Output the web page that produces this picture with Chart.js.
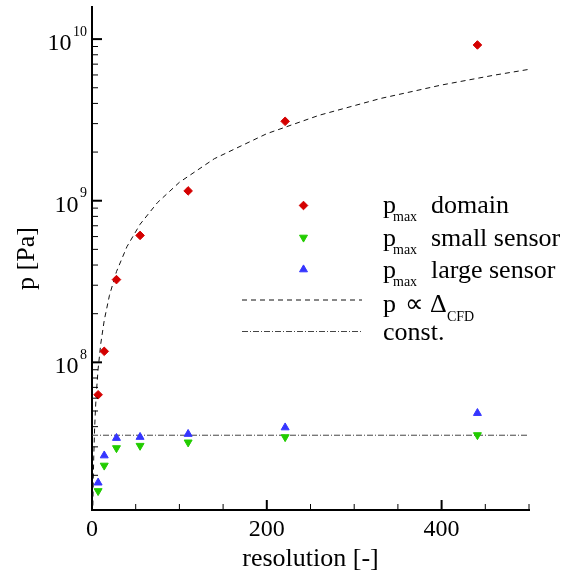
<!DOCTYPE html>
<html>
<head>
<meta charset="utf-8">
<script src="https://cdn.jsdelivr.net/npm/chart.js@4/dist/chart.umd.min.js"></script>
<style>
  html, body { margin: 0; padding: 0; background: #fff; }
</style>
</head>
<body>
<canvas id="myChart" width="562" height="576"></canvas>
<script>
/* Peak pressure vs. grid resolution, log pressure axis. */

// measured points
const resolution = [7, 14, 28, 55, 110, 221, 441];
const pMaxDomain = [6.3e7, 1.17e8, 3.25e8, 6.1e8, 1.15e9, 3.1e9, 9.2e9];
const pMaxSmall  = [1.6e7, 2.3e7, 2.95e7, 3.05e7, 3.2e7, 3.45e7, 3.55e7];
const pMaxLarge  = [1.8e7, 2.65e7, 3.4e7, 3.45e7, 3.6e7, 3.95e7, 4.85e7];

// p ~ Delta_CFD reference curve
const scalingRes = [1, 1.5, 2, 3, 4, 5, 7, 10, 14, 20, 28, 40, 55, 75, 100, 140, 200, 260, 330, 400, 460, 500];
const scalingP   = [1.3e7, 1.95e7, 2.6e7, 3.9e7, 5.2e7, 6.5e7, 9.1e7, 1.3e8, 1.82e8, 2.6e8, 3.64e8, 5.2e8,
                    7.15e8, 9.75e8, 1.3e9, 1.82e9, 2.6e9, 3.38e9, 4.29e9, 5.2e9, 5.98e9, 6.5e9];

// constant level
const constRes = [0, 500];
const constP   = [3.54e7, 3.54e7];

// axes
const xMin = 0, xMax = 500, xMinorStep = 50;
const yMin = 1.22e7, yMax = 1.58e10;
const xMajorTicks = [0, 200, 400];
const xTickLabels = ['0', '200', '400'];
const yMajorTicks = [1e8, 1e9, 1e10];
const yTickExponents = ['8', '9', '10'];

const serif = "'Liberation Serif', 'Times New Roman', serif";
const red = '#d40000', green = '#22cc00', blue = '#3535ff';

function pts(xs, ys) {
    return xs.map((x, i) => ({ x: x, y: ys[i] }));
}

// tick marks point into the plot, labels use superscripts
const axisDecor = {
    id: 'axisDecor',
    afterDraw(chart) {
        const ctx = chart.ctx;
        const xs = chart.scales.x, ys = chart.scales.y;
        const area = chart.chartArea;
        ctx.save();
        ctx.strokeStyle = '#000';
        ctx.fillStyle = '#000';

        for (let v = xMin + xMinorStep; v <= xMax; v += xMinorStep) {
            const major = xMajorTicks.includes(v);
            const px = xs.getPixelForValue(v);
            ctx.lineWidth = major ? 2 : 1;
            ctx.beginPath();
            ctx.moveTo(px, area.bottom);
            ctx.lineTo(px, area.bottom - (major ? 10 : 6));
            ctx.stroke();
        }
        for (let e = 7; e <= 10; e++) {
            for (let m = 1; m <= 9; m++) {
                const v = m * Math.pow(10, e);
                if (v < yMin || v > yMax) continue;
                const py = ys.getPixelForValue(v);
                ctx.lineWidth = m === 1 ? 2 : 1;
                ctx.beginPath();
                ctx.moveTo(area.left, py);
                ctx.lineTo(area.left + (m === 1 ? 10 : 6), py);
                ctx.stroke();
            }
        }

        ctx.textBaseline = 'alphabetic';
        ctx.font = '24px ' + serif;
        ctx.textAlign = 'center';
        xMajorTicks.forEach((v, i) => {
            ctx.fillText(xTickLabels[i], xs.getPixelForValue(v), area.bottom + 26);
        });

        const right = area.left - 5;
        yMajorTicks.forEach((v, i) => {
            const py = ys.getPixelForValue(v);
            ctx.font = '14px ' + serif;
            const supW = ctx.measureText(yTickExponents[i]).width;
            ctx.textAlign = 'left';
            ctx.fillText(yTickExponents[i], right - supW, py - 3.5);
            ctx.font = '24px ' + serif;
            ctx.textAlign = 'right';
            ctx.fillText('10', right - supW - 1.5, py + 11);
        });
        ctx.restore();
    }
};

// legend rows: marker/line sample plus text runs (main, subscript)
const legendRows = [
    { ds: 0, y: 205.5, base: 212.5, runs: [['p', 383, 0], ['max', 393, 1], ['domain', 431, 0]] },
    { ds: 1, y: 237.5, base: 245.5, runs: [['p', 383, 0], ['max', 393, 1], ['small sensor', 431, 0]] },
    { ds: 2, y: 269.5, base: 277.5, runs: [['p', 383, 0], ['max', 393, 1], ['large sensor', 431, 0]] },
    { ds: 3, y: 300,   base: 312,   runs: [['p', 383, 0], ['\u221D', 405, 0], ['\u0394', 430, 0], ['CFD', 447, 1]] },
    { ds: 4, y: 331.5, base: 340,   runs: [['const.', 383, 0]] }
];

const customLegend = {
    id: 'customLegend',
    afterDraw(chart) {
        const ctx = chart.ctx;
        ctx.save();
        legendRows.forEach(row => {
            const ds = chart.data.datasets[row.ds];
            if (ds.showLine) {
                ctx.strokeStyle = ds.borderColor;
                ctx.lineWidth = ds.borderWidth;
                ctx.setLineDash(ds.borderDash);
                ctx.beginPath();
                ctx.moveTo(242, row.y);
                ctx.lineTo(362, row.y);
                ctx.stroke();
                ctx.setLineDash([]);
            } else {
                ctx.fillStyle = ds.backgroundColor;
                ctx.strokeStyle = ds.borderColor;
                ctx.lineWidth = ds.pointBorderWidth;
                Chart.helpers.drawPoint(ctx, {
                    pointStyle: ds.pointStyle,
                    rotation: ds.pointRotation || 0,
                    radius: ds.pointRadius,
                    borderWidth: ds.pointBorderWidth
                }, 303.5, row.y);
            }
            ctx.fillStyle = '#000';
            ctx.textAlign = 'left';
            ctx.textBaseline = 'alphabetic';
            row.runs.forEach(([text, x, sub]) => {
                ctx.font = (sub ? '14px ' : '26px ') + serif;
                ctx.fillText(text, x, sub ? row.base + 8.5 : row.base);
            });
        });
        ctx.restore();
    }
};

const myChart = new Chart(document.getElementById('myChart'), {
    type: 'scatter',
    data: {
        datasets: [
            {
                label: 'pmax domain',
                data: pts(resolution, pMaxDomain),
                pointStyle: 'rectRot',
                pointRadius: 4.3,
                pointBorderWidth: 1,
                backgroundColor: red,
                borderColor: red,
                order: 0
            },
            {
                label: 'pmax small sensor',
                data: pts(resolution, pMaxSmall),
                pointStyle: 'triangle',
                pointRotation: 180,
                rotation: 180,
                pointRadius: 4.6,
                pointBorderWidth: 1,
                backgroundColor: green,
                borderColor: green,
                order: 1
            },
            {
                label: 'pmax large sensor',
                data: pts(resolution, pMaxLarge),
                pointStyle: 'triangle',
                pointRadius: 4.6,
                pointBorderWidth: 1,
                backgroundColor: blue,
                borderColor: blue,
                order: 1
            },
            {
                label: 'p ~ Delta_CFD',
                data: pts(scalingRes, scalingP),
                showLine: true,
                pointRadius: 0,
                borderColor: '#111',
                borderWidth: 1,
                borderDash: [5, 4],
                order: 2
            },
            {
                label: 'const.',
                data: pts(constRes, constP),
                showLine: true,
                pointRadius: 0,
                borderColor: '#444',
                borderWidth: 1,
                borderDash: [6, 2, 1, 2],
                order: 3
            }
        ]
    },
    options: {
        responsive: false,
        animation: false,
        layout: { padding: { top: 7, right: 33, left: 0, bottom: 0 } },
        scales: {
            x: {
                type: 'linear',
                min: xMin,
                max: xMax,
                grid: { display: false },
                border: { display: true, color: '#000', width: 2 },
                ticks: { display: false },
                title: {
                    display: true,
                    text: 'resolution [-]',
                    color: '#000',
                    font: { family: serif, size: 26 },
                    padding: { top: 0, bottom: 1 }
                },
                afterFit(scale) { scale.height = 66; }
            },
            y: {
                type: 'logarithmic',
                min: yMin,
                max: yMax,
                grid: { display: false },
                border: { display: true, color: '#000', width: 2 },
                ticks: { display: false },
                title: {
                    display: true,
                    text: 'p [Pa]',
                    color: '#000',
                    font: { family: serif, size: 26 },
                    padding: { top: 12, bottom: 0 }
                },
                afterFit(scale) { scale.width = 92; }
            }
        },
        plugins: {
            legend: { display: false },
            tooltip: { enabled: false }
        }
    },
    plugins: [axisDecor, customLegend]
});
</script>
</body>
</html>
